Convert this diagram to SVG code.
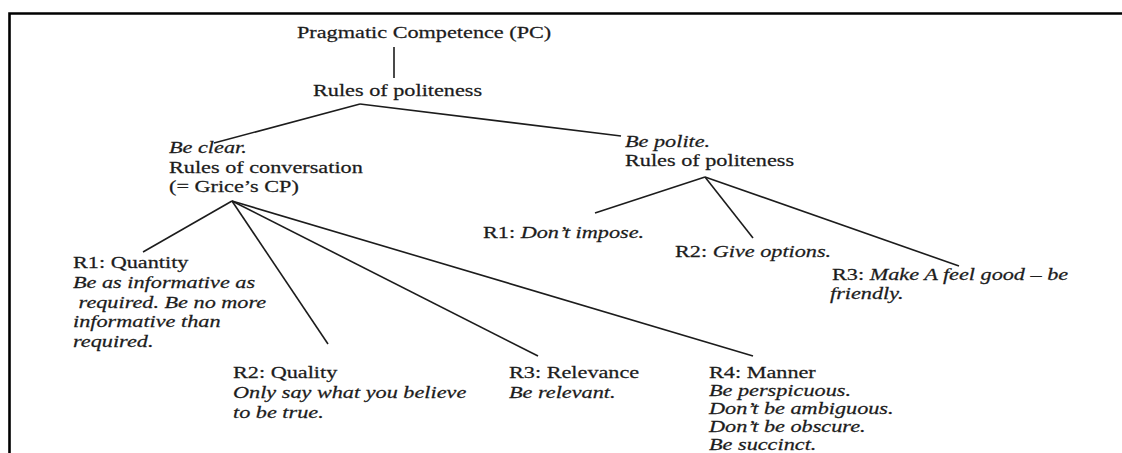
<svg xmlns="http://www.w3.org/2000/svg" width="1122" height="453" viewBox="0 0 1122 453">
<style>
text{font-family:"Liberation Serif","Times New Roman",serif;font-size:17.5px;fill:#1c1c1c;stroke:#1c1c1c;stroke-width:0.25}
.i{font-style:italic}
.c{stroke:#1c1c1c;stroke-width:1.6;fill:none}
.frame{stroke:#000;stroke-width:2.6;fill:none}
</style>
<rect width="1122" height="453" fill="#fff"/>
<path class="frame" d="M9.5,453 V13.5 H1122"/>
<g id="connectors">
<line class="c" x1="394" y1="47" x2="394" y2="78"/>
<line class="c" x1="360" y1="104" x2="214" y2="143"/>
<line class="c" x1="360" y1="104" x2="621" y2="136"/>
<line class="c" x1="232" y1="201" x2="143" y2="252"/>
<line class="c" x1="232" y1="201" x2="328" y2="344"/>
<line class="c" x1="232" y1="201" x2="538" y2="356"/>
<line class="c" x1="232" y1="201" x2="753" y2="356"/>
<line class="c" x1="705" y1="177" x2="595" y2="213"/>
<line class="c" x1="705" y1="177" x2="753" y2="238"/>
<line class="c" x1="705" y1="177" x2="959" y2="266"/>
</g>
<g id="pc"><text transform="translate(297,38) scale(1.27,1)">Pragmatic Competence (PC)</text></g>
<g id="politeness-top"><text transform="translate(313,96) scale(1.27,1)">Rules of politeness</text></g>
<g id="conversation">
<text transform="translate(169,153) scale(1.27,1)" class="i">Be clear.</text>
<text transform="translate(169,172.5) scale(1.27,1)">Rules of conversation</text>
<text transform="translate(169,192) scale(1.27,1)">(= Grice’s CP)</text>
</g>
<g id="polite">
<text transform="translate(625,147) scale(1.27,1)" class="i">Be polite.</text>
<text transform="translate(625,166) scale(1.27,1)">Rules of politeness</text>
</g>
<g id="p-r1"><text transform="translate(483,238) scale(1.27,1)">R1: <tspan class="i">Don’t impose.</tspan></text></g>
<g id="p-r2"><text transform="translate(675,257) scale(1.27,1)">R2: <tspan class="i">Give options.</tspan></text></g>
<g id="p-r3">
<text transform="translate(832,280) scale(1.27,1)">R3: <tspan class="i">Make A feel good – be</tspan></text>
<text transform="translate(830,299) scale(1.27,1)" class="i">friendly.</text>
</g>
<g id="c-r1">
<text transform="translate(73,268) scale(1.27,1)">R1: Quantity</text>
<text transform="translate(73,288) scale(1.27,1)" class="i">Be as informative as</text>
<text transform="translate(73,307.5) scale(1.27,1)" class="i" xml:space="preserve"> required. Be no more</text>
<text transform="translate(73,327) scale(1.27,1)" class="i">informative than</text>
<text transform="translate(73,346.5) scale(1.27,1)" class="i">required.</text>
</g>
<g id="c-r2">
<text transform="translate(233,378) scale(1.27,1)">R2: Quality</text>
<text transform="translate(233,398) scale(1.27,1)" class="i">Only say what you believe</text>
<text transform="translate(233,418) scale(1.27,1)" class="i">to be true.</text>
</g>
<g id="c-r3">
<text transform="translate(509,378) scale(1.27,1)">R3: Relevance</text>
<text transform="translate(509,398) scale(1.27,1)" class="i">Be relevant.</text>
</g>
<g id="c-r4">
<text transform="translate(709,378) scale(1.27,1)">R4: Manner</text>
<text transform="translate(709,396) scale(1.27,1)" class="i">Be perspicuous.</text>
<text transform="translate(709,414) scale(1.27,1)" class="i">Don’t be ambiguous.</text>
<text transform="translate(709,432) scale(1.27,1)" class="i">Don’t be obscure.</text>
<text transform="translate(709,449.5) scale(1.27,1)" class="i">Be succinct.</text>
</g>
</svg>
